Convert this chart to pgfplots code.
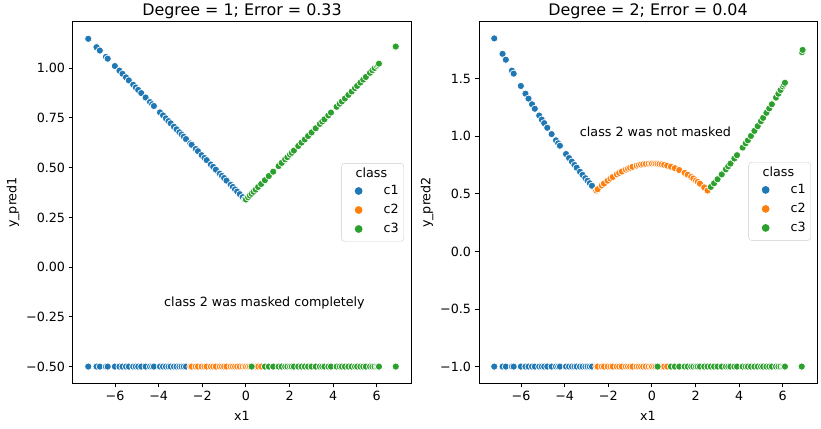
\documentclass[border=0pt]{standalone}
\usepackage{fontspec}
\setmainfont{DejaVu Sans}
\usepackage{pgfplots}
\pgfplotsset{compat=1.18}
\definecolor{cA}{HTML}{1F77B4}
\definecolor{cB}{HTML}{FF7F0E}
\definecolor{cC}{HTML}{2CA02C}

\newcommand{\fs}{\fontsize{12.7}{15}\selectfont}
\pgfplotsset{
  pt/.style={only marks, mark=*, mark size=3.6pt, mark options={draw=white, fill=#1, line width=0.7pt}},
  panel/.style={
    scale only axis, width=338pt, height=361pt,
    xmin=-7.93, xmax=7.57,
    axis line style={line width=1pt},
    tick align=outside, major tick length=4.4pt,
    tick style={black, line width=1pt},
    xtick pos=left, ytick pos=left,
    xtick={-6,-4,-2,0,2,4,6},
    xticklabels={−6,−4,−2,0,2,4,6},
    ticklabel style={font=\fs},
    label style={font=\fs},
    xlabel style={yshift=-4pt},
    title style={font=\fontsize{15.9}{18}\selectfont, yshift=-6pt},
    xlabel={x1},
    legend image code/.code={%
      \path[draw=none, fill=none] (0pt,-9.5pt) rectangle (37pt,9.5pt);
      \draw[#1, mark size=3.9pt, every mark/.append style={draw opacity=0, fill opacity=1}]
        plot coordinates {(14pt,0pt)};},
    legend style={anchor=north east, draw=black!20, rounded corners=3pt,
      fill=white, fill opacity=0.8, text opacity=1,
      font=\fs, cells={anchor=west, inner sep=0pt}, row sep=0pt,
      inner xsep=3pt, inner ysep=3pt},
    legend entries={\hspace*{-28pt}class\rule[-3pt]{0pt}{3pt}, c1, c2, c3},
  },
}

\begin{document}
\begin{tikzpicture}
\path[use as bounding box] (-73pt,-45pt) rectangle (748pt,383pt);

% ---------------- degree 1
\begin{axis}[panel,
  title={Degree = 1; Error = 0.33},
  ylabel={y\_pred1},
  ymin=-0.5825, ymax=1.2325,
  ytick={-0.5,-0.25,0,0.25,0.5,0.75,1},
  yticklabels={−0.50,−0.25,0.00,0.25,0.50,0.75,1.00},
  legend style={at={(0.979,0.609)}},
]
\addlegendimage{empty legend}
% rug of true classes
\addplot[pt=cA] coordinates {
(-7.23,-0.5)(-6.85,-0.5)(-6.70,-0.5)(-6.42,-0.5)(-6.34,-0.5)(-6.01,-0.5)(-5.80,-0.5)(-5.66,-0.5)
(-5.50,-0.5)(-5.37,-0.5)(-5.17,-0.5)(-5.05,-0.5)(-4.94,-0.5)(-4.80,-0.5)(-4.60,-0.5)(-4.40,-0.5)
(-4.30,-0.5)(-4.22,-0.5)(-3.94,-0.5)(-3.80,-0.5)(-3.67,-0.5)(-3.55,-0.5)(-3.45,-0.5)(-3.30,-0.5)
(-3.18,-0.5)(-3.05,-0.5)(-2.95,-0.5)(-2.85,-0.5)(-2.75,-0.5)};
\addplot[pt=cB] coordinates {
(-2.55,-0.5)(-2.49,-0.5)(-2.30,-0.5)(-2.20,-0.5)(-2.03,-0.5)(-1.90,-0.5)(-1.80,-0.5)(-1.61,-0.5)
(-1.50,-0.5)(-1.38,-0.5)(-1.20,-0.5)(-1.10,-0.5)(-1.00,-0.5)(-0.89,-0.5)(-0.70,-0.5)(-0.60,-0.5)
(-0.50,-0.5)(-0.40,-0.5)(-0.28,-0.5)(-0.15,-0.5)(-0.05,-0.5)(0.00,-0.5)(0.10,-0.5)(0.18,-0.5)
(0.35,-0.5)(0.45,-0.5)(0.56,-0.5)(0.70,-0.5)};
\addplot[pt=cC] coordinates {
(0.26,-0.5)(0.87,-0.5)(1.05,-0.5)(1.25,-0.5)(1.50,-0.5)(1.64,-0.5)(1.80,-0.5)(1.90,-0.5)(2.02,-0.5)
(2.10,-0.5)(2.20,-0.5)(2.40,-0.5)(2.55,-0.5)(2.70,-0.5)(2.85,-0.5)(3.01,-0.5)(3.20,-0.5)
(3.39,-0.5)(3.50,-0.5)(3.60,-0.5)(3.78,-0.5)(3.90,-0.5)(4.16,-0.5)(4.30,-0.5)(4.40,-0.5)
(4.54,-0.5)(4.70,-0.5)(4.85,-0.5)(5.00,-0.5)(5.10,-0.5)(5.25,-0.5)(5.38,-0.5)(5.50,-0.5)
(5.69,-0.5)(5.80,-0.5)(5.90,-0.5)(6.00,-0.5)(6.05,-0.5)(6.10,-0.5)(6.85,-0.5)(6.87,-0.5)};
% predictions
\addplot[pt=cA, forget plot] coordinates {
(-7.23,1.148)(-6.85,1.106)(-6.70,1.089)(-6.42,1.057)(-6.34,1.048)(-6.01,1.011)(-5.80,0.988)
(-5.66,0.972)(-5.50,0.954)(-5.37,0.939)(-5.17,0.917)(-5.05,0.903)(-4.94,0.891)(-4.80,0.875)
(-4.60,0.853)(-4.40,0.830)(-4.30,0.819)(-4.22,0.810)(-3.94,0.778)(-3.80,0.763)(-3.67,0.748)
(-3.55,0.734)(-3.45,0.723)(-3.30,0.706)(-3.18,0.693)(-3.05,0.678)(-2.95,0.667)(-2.85,0.656)
(-2.75,0.644)(-2.55,0.622)(-2.49,0.615)(-2.30,0.594)(-2.20,0.583)(-2.03,0.563)(-1.90,0.549)
(-1.80,0.538)(-1.61,0.516)(-1.50,0.504)(-1.38,0.490)(-1.20,0.470)(-1.10,0.459)(-1.00,0.448)
(-0.89,0.435)(-0.70,0.414)(-0.60,0.403)(-0.50,0.391)(-0.40,0.380)(-0.28,0.367)(-0.15,0.352)
(-0.05,0.341)};
\addplot[pt=cC, forget plot] coordinates {
(0.00,0.340)(0.10,0.351)(0.18,0.360)(0.26,0.369)(0.35,0.379)(0.45,0.390)(0.56,0.403)(0.70,0.418)
(0.87,0.437)(1.05,0.458)(1.25,0.480)(1.50,0.508)(1.64,0.524)(1.80,0.542)(1.90,0.553)(2.02,0.566)(2.10,0.575)
(2.20,0.586)(2.40,0.609)(2.55,0.626)(2.70,0.642)(2.85,0.659)(3.01,0.677)(3.20,0.698)(3.39,0.720)
(3.50,0.732)(3.60,0.743)(3.78,0.763)(3.90,0.777)(4.16,0.806)(4.30,0.822)(4.40,0.833)(4.54,0.848)
(4.70,0.866)(4.85,0.883)(5.00,0.900)(5.10,0.911)(5.25,0.928)(5.38,0.943)(5.50,0.956)(5.69,0.977)
(5.80,0.990)(5.90,1.001)(6.00,1.012)(6.05,1.018)(6.10,1.023)(6.85,1.107)(6.87,1.109)};
\node[font=\fs] at (axis cs:0.85,-0.18) {class 2 was masked completely};
\end{axis}

% ---------------- degree 2
\begin{axis}[panel, at={(406pt,0pt)},
  title={Degree = 2; Error = 0.04},
  ylabel={y\_pred2},
  ymin=-1.1425, ymax=1.9925,
  ytick={-1,-0.5,0,0.5,1,1.5},
  yticklabels={−1.0,−0.5,0.0,0.5,1.0,1.5},
  legend style={at={(0.982,0.612)}},
]
\addlegendimage{empty legend}
\addplot[pt=cA] coordinates {
(-7.23,-1)(-6.85,-1)(-6.70,-1)(-6.42,-1)(-6.34,-1)(-6.01,-1)(-5.80,-1)(-5.66,-1)
(-5.50,-1)(-5.37,-1)(-5.17,-1)(-5.05,-1)(-4.94,-1)(-4.80,-1)(-4.60,-1)(-4.40,-1)
(-4.30,-1)(-4.22,-1)(-3.94,-1)(-3.80,-1)(-3.67,-1)(-3.55,-1)(-3.45,-1)(-3.30,-1)
(-3.18,-1)(-3.05,-1)(-2.95,-1)(-2.85,-1)(-2.75,-1)};
\addplot[pt=cB] coordinates {
(-2.55,-1)(-2.49,-1)(-2.30,-1)(-2.20,-1)(-2.03,-1)(-1.90,-1)(-1.80,-1)(-1.61,-1)
(-1.50,-1)(-1.38,-1)(-1.20,-1)(-1.10,-1)(-1.00,-1)(-0.89,-1)(-0.70,-1)(-0.60,-1)
(-0.50,-1)(-0.40,-1)(-0.28,-1)(-0.15,-1)(-0.05,-1)(0.00,-1)(0.10,-1)(0.18,-1)
(0.35,-1)(0.45,-1)(0.56,-1)(0.70,-1)};
\addplot[pt=cC] coordinates {
(0.26,-1)(0.87,-1)(1.05,-1)(1.25,-1)(1.50,-1)(1.64,-1)(1.80,-1)(1.90,-1)(2.02,-1)
(2.10,-1)(2.20,-1)(2.40,-1)(2.55,-1)(2.70,-1)(2.85,-1)(3.01,-1)(3.20,-1)
(3.39,-1)(3.50,-1)(3.60,-1)(3.78,-1)(3.90,-1)(4.16,-1)(4.30,-1)(4.40,-1)
(4.54,-1)(4.70,-1)(4.85,-1)(5.00,-1)(5.10,-1)(5.25,-1)(5.38,-1)(5.50,-1)
(5.69,-1)(5.80,-1)(5.90,-1)(6.00,-1)(6.05,-1)(6.10,-1)(6.85,-1)(6.87,-1)};
\addplot[pt=cA, forget plot] coordinates {
(-7.23,1.850)(-6.85,1.716)(-6.70,1.665)(-6.42,1.570)(-6.34,1.544)(-6.01,1.437)(-5.80,1.370)
(-5.66,1.327)(-5.50,1.278)(-5.37,1.239)(-5.17,1.180)(-5.05,1.145)(-4.94,1.114)(-4.80,1.074)
(-4.60,1.019)(-4.40,0.965)(-4.30,0.939)(-4.22,0.918)(-3.94,0.846)(-3.80,0.811)(-3.67,0.780)
(-3.55,0.751)(-3.45,0.727)(-3.30,0.692)(-3.18,0.665)(-3.05,0.636)(-2.95,0.614)(-2.85,0.592)
(-2.75,0.570)};
\addplot[pt=cB, forget plot] coordinates {
(-2.55,0.529)(-2.49,0.540)(-2.30,0.573)(-2.20,0.589)(-2.03,0.615)(-1.90,0.633)(-1.80,0.646)
(-1.61,0.670)(-1.50,0.682)(-1.38,0.694)(-1.20,0.711)(-1.10,0.719)(-1.00,0.727)(-0.89,0.735)
(-0.70,0.745)(-0.60,0.750)(-0.50,0.754)(-0.40,0.757)(-0.28,0.760)(-0.15,0.762)(-0.05,0.763)
(0.00,0.763)(0.10,0.763)(0.18,0.762)(0.26,0.761)(0.35,0.759)(0.45,0.756)(0.56,0.752)
(0.70,0.745)(0.87,0.736)(1.05,0.723)(1.25,0.707)(1.50,0.682)(1.64,0.666)(1.80,0.646)(1.90,0.633)
(2.02,0.616)(2.10,0.604)(2.20,0.589)(2.40,0.556)(2.55,0.529)};
\addplot[pt=cC, forget plot] coordinates {
(2.70,0.560)(2.85,0.592)(3.01,0.627)(3.20,0.669)(3.39,0.713)(3.50,0.739)(3.60,0.763)(3.78,0.807)
(3.90,0.836)(4.16,0.902)(4.30,0.939)(4.40,0.965)(4.54,1.003)(4.70,1.047)(4.85,1.088)(5.00,1.131)
(5.10,1.160)(5.25,1.204)(5.38,1.242)(5.50,1.278)(5.69,1.336)(5.80,1.370)(5.90,1.402)(6.00,1.433)
(6.05,1.449)(6.10,1.465)(6.88,1.730)(6.91,1.750)};
\node[font=\fs] at (axis cs:0.16,1.037) {class 2 was not masked};
\end{axis}
\end{tikzpicture}
\end{document}
